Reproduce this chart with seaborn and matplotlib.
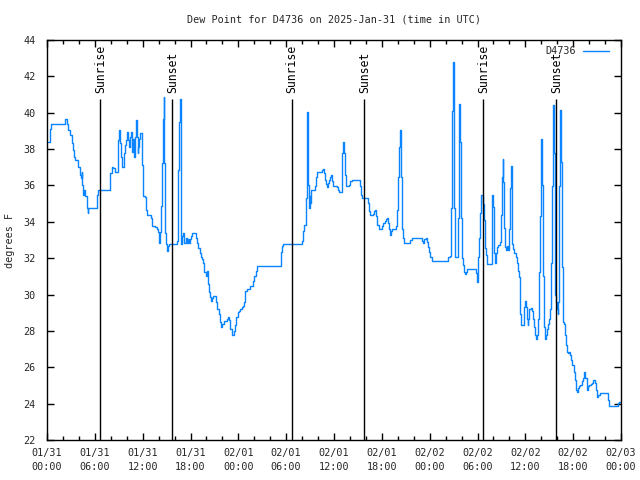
import pandas as pd
import seaborn as sns
import matplotlib.pyplot as plt
import matplotlib.dates as mdates

# hours since 2025-01-31 00:00 UTC and dew point (deg F)
hours = [
    0.17, 0.34, 0.46, 2.05, 2.26, 2.47, 2.68, 2.89, 3.09, 3.30, 3.43, 3.51, 3.85, 3.93, 4.14, 4.27,
    4.35, 4.43, 4.56, 4.68, 4.77, 4.98, 5.10, 5.18, 6.23, 6.31, 6.44, 7.82, 7.94, 8.11, 8.32, 8.53,
    8.74, 8.86, 8.95, 9.07, 9.16, 9.28, 9.37, 9.57, 9.70, 9.78, 9.91, 10.03, 10.16, 10.29, 10.41,
    10.54, 10.62, 10.75, 10.87, 10.95, 11.04, 11.12, 11.21, 11.29, 11.37, 11.46, 11.58, 11.71,
    11.87, 11.96, 12.08, 12.29, 12.42, 12.54, 12.84, 13.04, 13.13, 13.21, 13.55, 13.75, 13.96,
    14.05, 14.17, 14.30, 14.47, 14.59, 14.68, 14.72, 14.80, 14.93, 15.05, 15.13, 15.30,
    16.14, 16.26, 16.39, 16.47, 16.56, 16.68, 16.76, 16.85, 16.97, 17.10, 17.22, 17.39, 17.52,
    17.64, 17.81, 17.94, 18.06, 18.23, 18.48, 18.65, 18.77, 18.98, 19.19, 19.32, 19.48, 19.61,
    19.73, 19.90, 20.03, 20.15, 20.23, 20.36, 20.49, 20.57, 20.74, 20.86, 21.07, 21.20, 21.32,
    21.49, 21.61, 21.70, 21.82, 21.99, 22.16, 22.41, 22.58, 22.74, 22.87, 22.99, 23.16, 23.37,
    23.50, 23.62, 23.75, 23.91, 24.08, 24.25, 24.42, 24.58, 24.71, 24.83, 25.04, 25.25, 25.46,
    25.67, 25.88, 26.00, 26.17, 26.30, 29.22, 29.35, 29.47, 29.64,
    31.86, 31.94, 32.07, 32.19, 32.36, 32.44, 32.57, 32.65, 32.69, 32.78, 32.86, 32.94, 33.03,
    33.11, 33.40, 33.61, 33.74, 33.86, 34.24, 34.45, 34.57, 34.70, 34.82, 34.95, 35.08, 35.20,
    35.37, 35.49, 35.62, 35.74, 35.87, 36.12, 36.33, 36.46, 36.62, 36.87, 36.96, 37.04, 37.17,
    37.25, 37.38, 37.46, 37.79, 37.92, 38.04, 38.21, 39.13, 39.26, 39.38, 39.55, 40.09, 40.22,
    40.34, 40.47, 40.80, 40.93, 41.05, 41.14, 41.22, 41.35, 41.64, 41.89, 42.06, 42.18, 42.39,
    42.52, 42.64, 42.73, 42.85, 42.98, 43.14, 43.31, 43.65, 43.81, 43.94, 44.06, 44.19, 44.27,
    44.36, 44.48, 44.61, 44.73, 45.41,
    45.54, 45.75, 46.92, 47.08, 47.21, 47.33, 47.50, 47.63, 47.75, 47.92, 48.05, 48.25, 50.14,
    50.34, 50.55, 50.68, 50.85, 50.97, 51.10, 51.18, 51.47, 51.60, 51.72, 51.81, 51.89, 52.02,
    52.14, 52.27, 52.43, 52.56, 52.69, 53.69, 53.81, 53.94, 54.02, 54.11, 54.23, 54.36, 54.48,
    54.61, 54.73, 54.82, 54.94, 55.07, 55.19, 55.70, 55.78, 55.86, 55.95, 56.03, 56.11, 56.20,
    56.28, 56.36, 56.45, 56.62, 56.78, 56.91, 56.99, 57.08, 57.16, 57.24, 57.33, 57.45, 57.58,
    57.70, 57.83,
    57.95, 58.04, 58.12, 58.20, 58.29, 58.37, 58.50, 58.62, 58.79, 58.91, 59.04, 59.16, 59.29,
    59.37, 59.46, 59.71, 59.79, 59.87, 60.00, 60.08, 60.17, 60.29, 60.38, 60.46, 60.71, 60.84,
    60.96, 61.09, 61.21, 61.30, 61.42, 61.55, 61.63, 61.76, 61.84, 61.92, 62.01, 62.09, 62.22,
    62.30, 62.42, 62.51, 62.63, 62.76, 62.88, 63.01, 63.14, 63.22, 63.34, 63.43, 63.51, 63.60,
    63.68, 63.76, 63.85, 63.93, 64.06, 64.14, 64.22, 64.31, 64.39, 64.47, 64.56, 64.64, 64.77,
    64.89, 65.02, 65.14, 65.27, 65.39, 65.52, 65.64, 65.77, 65.89, 66.06, 66.23, 66.35, 66.48,
    66.61, 66.73, 66.90, 67.07, 67.19, 67.32, 67.40, 67.53, 67.69, 67.82, 68.03, 68.24, 68.40,
    68.53, 68.65, 68.78, 68.90, 69.03, 69.16, 69.36, 70.24, 70.37, 70.54, 71.45, 71.58, 71.71,
    72.00,
]
dew_f = [
    38.40, 39.13, 39.40, 39.40, 39.67, 39.40, 39.04, 38.76, 38.31, 37.95, 37.58, 37.40, 37.40, 37.04, 36.58, 36.40,
    36.76, 36.04, 35.49, 35.76, 35.40, 34.76, 34.49, 34.76, 34.76, 35.49, 35.76, 35.76, 36.67, 37.00, 36.95, 36.76,
    36.76, 37.31, 38.49, 39.04, 38.31, 37.58, 37.00, 37.00, 37.76, 38.22, 38.49, 38.95, 38.49, 38.13, 38.67,
    38.95, 37.85, 38.58, 38.13, 37.58, 38.67, 39.31, 39.58, 38.67, 37.76, 38.13, 38.58, 38.89,
    38.85, 37.13, 35.40, 35.36, 34.67, 34.40, 34.35, 34.22, 34.04, 33.76, 33.73, 33.58, 33.44,
    32.85, 33.44, 34.85, 37.22, 39.67, 40.85, 37.22, 33.40, 32.76, 32.40, 32.67, 32.76,
    32.76, 32.95, 34.31, 36.85, 39.49, 40.76, 36.85, 32.76, 33.22, 33.40, 32.85, 33.13, 32.85,
    33.07, 32.82, 33.04, 33.22, 33.36, 33.36, 33.13, 32.82, 32.58, 32.31, 32.04, 31.98, 31.76,
    31.25, 31.04, 31.31, 30.95, 30.58, 30.13, 29.85, 29.62, 29.80, 29.91, 29.91, 29.58, 29.22,
    29.18, 28.95, 28.49, 28.22, 28.40, 28.53, 28.53, 28.67, 28.76, 28.58, 28.13, 27.76, 27.80,
    27.98, 28.31, 28.76, 29.04, 29.07, 29.22, 29.31, 29.36, 29.58, 30.22, 30.31, 30.31, 30.49,
    30.49, 30.76, 31.04, 31.31, 31.55, 31.55, 32.35, 32.67, 32.76,
    32.76, 32.95, 33.49, 33.80, 33.80, 35.31, 38.49, 40.04, 38.67, 36.04, 34.76, 35.40, 35.04,
    35.73, 35.76, 35.95, 36.45, 36.76, 36.76, 36.85, 36.89, 36.71, 36.31, 36.09, 35.91, 36.13,
    36.31, 36.45, 36.56, 36.22, 35.95, 35.95, 35.91, 35.76, 35.64, 35.64, 36.40, 37.76, 38.40,
    37.76, 36.58, 35.95, 35.95, 36.04, 36.22, 36.31, 36.31, 35.95, 35.49, 35.31, 35.31, 35.04,
    34.58, 34.35, 34.35, 34.45, 34.58, 34.64, 34.31, 33.85, 33.62, 33.62, 33.76, 33.95, 34.04,
    34.13, 34.22, 33.95, 33.58, 33.25, 33.49, 33.58, 33.58, 33.76, 34.67, 36.49, 38.13, 39.04,
    36.49, 33.58, 33.13, 32.85, 32.85,
    33.00, 33.09, 33.09, 32.94, 32.81, 33.05, 33.09, 32.87, 32.63, 32.36, 32.08, 31.84, 31.84,
    32.08, 32.14, 34.74, 40.10, 42.77, 34.74, 32.08, 32.08, 34.19, 40.46, 38.37, 34.19, 31.99,
    31.62, 31.26, 31.11, 31.26, 31.40, 31.40, 31.17, 30.71, 31.07, 32.08, 33.09, 34.47, 35.48,
    35.48, 34.96, 34.10, 32.54, 32.17, 31.66, 31.66, 33.55, 35.48, 34.83, 33.55, 32.27, 31.72,
    32.17, 32.27, 32.63, 32.72, 32.91, 33.37, 34.37, 36.48, 37.45, 36.21, 33.64, 32.63, 32.45,
    32.69, 32.45,
    33.58, 35.40, 35.85, 37.07, 34.95, 32.76, 32.49, 32.31, 32.04, 31.73, 31.31, 30.95, 30.16,
    28.95, 28.31, 28.31, 28.67, 29.31, 29.62, 29.31, 28.67, 28.31, 28.67, 29.22, 29.25, 29.07,
    28.67, 28.22, 27.80, 27.58, 27.76, 28.13, 28.67, 31.25, 34.31, 36.04, 38.53, 36.04, 31.04,
    28.22, 27.80, 27.58, 27.80, 28.13, 28.40, 28.67, 29.22, 31.76, 35.95, 37.58, 40.45, 37.76,
    32.49, 29.95, 29.58, 29.22, 28.95, 29.58, 35.95, 38.22, 40.13, 37.31, 34.31, 31.49, 28.49,
    28.40, 27.80, 27.25, 26.85, 26.76, 26.85, 26.67, 26.40, 26.13, 25.76, 25.31, 24.76, 24.64,
    24.85, 24.95, 25.04, 25.22, 25.40, 25.58, 25.73, 25.40, 24.76, 24.95, 25.04, 25.07, 25.16,
    25.31, 25.31, 25.13, 24.76, 24.35, 24.49, 24.58, 24.58, 24.22, 23.85, 23.85, 24.04, 24.09,
    24.09,
]
sunrise_h = [6.69, 30.74, 54.73]
sunset_h = [15.72, 39.80, 63.89]
station = 'D4736'
start = pd.Timestamp('2025-01-31 00:00')

sns.set_style('ticks')
fontsize = 7.3
plt.rcParams['font.family'] = ['DejaVu Sans Mono']
plt.rcParams.update({'font.size': fontsize, 'axes.labelsize': fontsize,
                     'xtick.labelsize': fontsize, 'ytick.labelsize': fontsize})

df = pd.DataFrame({'time': start + pd.to_timedelta(hours, unit='h'), 'dewpt': dew_f})

fig = plt.figure(figsize=(6.4, 4.8), dpi=100)
ax = fig.add_axes([47 / 640, 40 / 480, 574 / 640, 400 / 480])

sns.lineplot(data=df, x='time', y='dewpt', ax=ax, color='#0a84ff', lw=1,
             drawstyle='steps-post', estimator=None, label=station)

# sunrise / sunset markers
for hs, name in [(sunrise_h, 'Sunrise'), (sunset_h, 'Sunset')]:
    for h in hs:
        t = start + pd.Timedelta(hours=h)
        ax.vlines(t, 22, 40.75, color='black', lw=1)
        ax.text(t, 41.1, name, rotation=90, ha='center', va='bottom', color='black',
                fontsize=8.3)

ax.set_xlim(start, start + pd.Timedelta(hours=72))
ax.set_ylim(22, 44)
ax.set_yticks(range(22, 45, 2))
ax.xaxis.set_major_locator(mdates.HourLocator(byhour=[0, 6, 12, 18]))
ax.xaxis.set_minor_locator(mdates.HourLocator(interval=2))
ax.xaxis.set_major_formatter(mdates.DateFormatter('%m/%d\n%H:%M'))
ax.tick_params(which='both', direction='in', top=True, right=True, width=1, color='black')
ax.tick_params(which='major', length=5)
ax.tick_params(which='minor', length=3)
ax.tick_params(axis='x', pad=6)
ax.tick_params(axis='y', pad=8)
for lbl in ax.get_xticklabels():
    lbl.set_linespacing(1.5)
for s in ax.spines.values():
    s.set_linewidth(1)
    s.set_color('black')

ax.set_xlabel('')
ax.set_ylabel('')
fig.text(10 / 640, 0.5, 'degrees F', rotation=90, ha='center', va='center')
fig.text(334 / 640, 1 - 19 / 480, 'Dew Point for D4736 on 2025-Jan-31 (time in UTC)',
         ha='center', va='center')

ax.legend(loc='upper right', bbox_to_anchor=(1 - 6 / 574, 1), frameon=False,
          markerfirst=False, handlelength=2.6, borderaxespad=0.2, handletextpad=0.6)

plt.savefig('out.png', dpi=100)
